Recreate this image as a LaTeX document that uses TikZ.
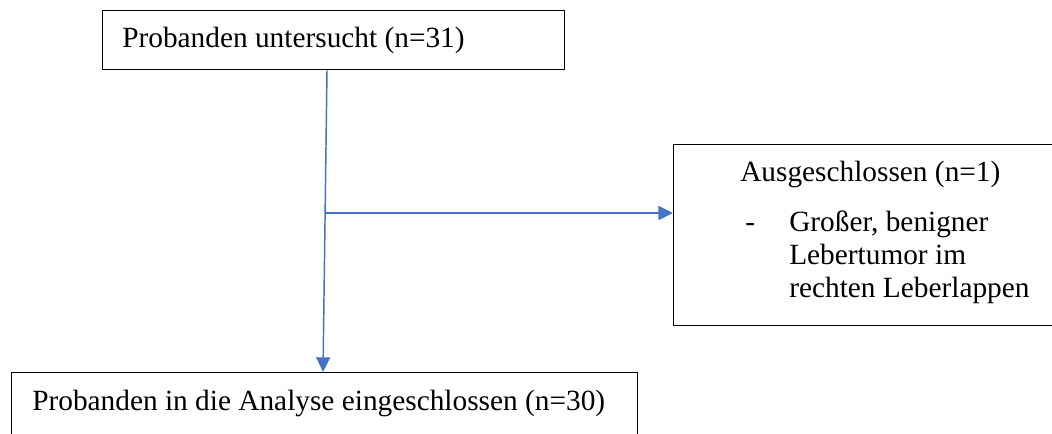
\documentclass[tikz,border=0pt]{standalone}
\usepackage{fontspec}
\setmainfont{Liberation Serif}
\usetikzlibrary{arrows.meta}
\definecolor{lineblue}{HTML}{4472C4}
\begin{document}
\begin{tikzpicture}[x=0.75pt,y=-0.75pt,
  boxstyle/.style={draw=black,line width=1.1pt,rectangle,inner sep=0pt,anchor=north west},
  txt/.style={inner sep=0pt,anchor=base west,font=\fontsize{22}{25}\selectfont},
  arr/.style={draw=lineblue,line width=1.1pt,-{Triangle[length=11pt,width=10.5pt]}},
  plain/.style={draw=lineblue,line width=1.1pt}]
\useasboundingbox (0,0) rectangle (1052,434);
\clip (0,0) rectangle (1052,434);
% boxes
\node[boxstyle,minimum width=462*0.75pt,minimum height=59*0.75pt] (top) at (102,10) {};
\node[boxstyle,minimum width=420*0.75pt,minimum height=181*0.75pt] (ex) at (673,144) {};
\node[boxstyle,minimum width=626*0.75pt,minimum height=100*0.75pt] (bot) at (11,372) {};
% texts
\node[txt] (t1) at (122,48) {Probanden untersucht (n=31)};
\node[txt] (t2) at (740,182) {Ausgeschlossen (n=1)};
\node[txt] (t3) at (745,232) {-};
\node[txt] (t4) at (789,232) {Großer, benigner};
\node[txt] (t5) at (789,265) {Lebertumor im};
\node[txt] (t6) at (789,298) {rechten Leberlappen};
\node[txt] (t7) at (32,410) {Probanden in die Analyse eingeschlossen (n=30)};
% connectors
\coordinate (vx1) at (327,0);
\coordinate (vx2) at (323,0);
\coordinate (j) at (326,213);
\draw[arr] (top.south -| vx1) -- (bot.north -| vx2);
\draw[arr] (j) -- (j -| ex.west);
\end{tikzpicture}
\end{document}
